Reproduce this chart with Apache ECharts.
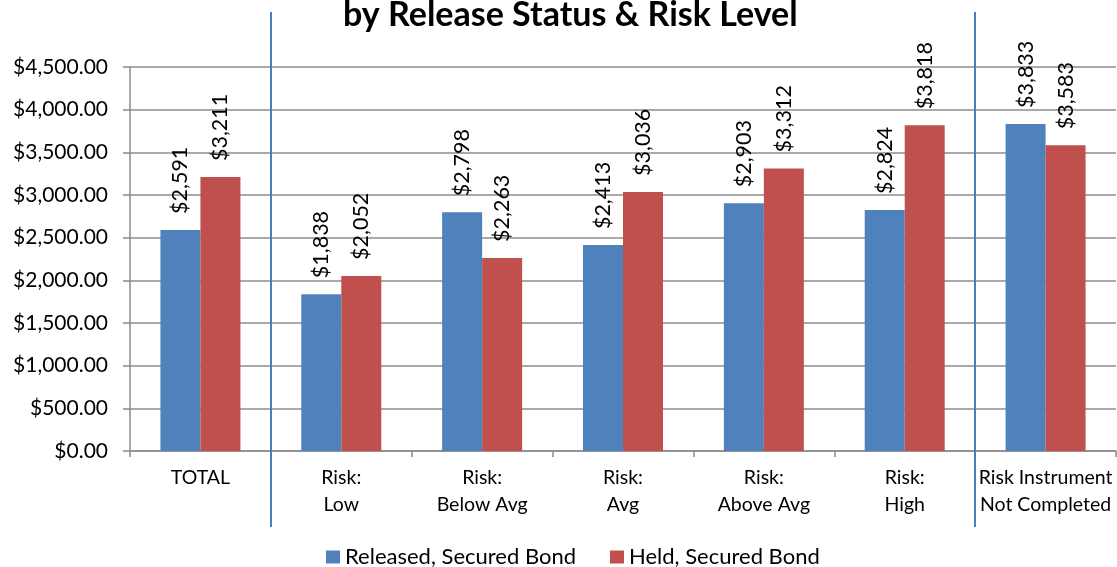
<!DOCTYPE html>
<html>
<head>
<meta charset="utf-8">
<script src="https://cdn.jsdelivr.net/npm/echarts@6/dist/echarts.min.js"></script>
<style>
  html, body { margin: 0; padding: 0; background: #ffffff; }
  #chart { width: 1117px; height: 567px; }
</style>
</head>
<body>
<div id="chart"></div>
<script>
// Average secured bond amount by release status and risk level
const categories = [
  'TOTAL',
  'Risk:\nLow',
  'Risk:\nBelow Avg',
  'Risk:\nAvg',
  'Risk:\nAbove Avg',
  'Risk:\nHigh',
  'Risk Instrument\nNot Completed'
];
const releasedValues = [2591, 1838, 2798, 2413, 2903, 2824, 3833];
const heldValues = [3211, 2052, 2263, 3036, 3312, 3818, 3583];
const seriesNames = ['Released, Secured Bond', 'Held, Secured Bond'];
const yMin = 0;
const yMax = 4500;
const yStep = 500;
// dividers are drawn after these category indexes
const dividerAfter = [0, 5];
const titleText = 'by Release Status & Risk Level';

const FONT = 'Lato, "Open Sans", sans-serif';
const BLUE = '#4F81BD';
const RED = '#C0504D';
const GRID_GRAY = '#8C8C8C';

function withCommas(n) {
  const s = String(Math.floor(Math.abs(n)));
  return s.replace(/\B(?=(\d{3})+(?!\d))/g, ',');
}
function money2(v) {
  const whole = withCommas(v);
  const cents = (Math.round(v * 100) % 100 + 100) % 100;
  return '$' + whole + '.' + String(cents).padStart(2, '0');
}
function money0(v) {
  return '$' + withCommas(Math.round(v));
}

const chart = echarts.init(document.getElementById('chart'), null, { renderer: 'canvas' });

const barLabel = {
  show: true,
  position: 'top',
  rotate: 90,
  align: 'left',
  verticalAlign: 'middle',
  distance: 16,
  fontFamily: FONT,
  fontSize: 21.5,
  color: '#000',
  formatter: p => money0(p.value)
};

chart.setOption({
  animation: false,
  backgroundColor: '#ffffff',
  title: {
    text: titleText,
    left: 338,
    top: -7,
    textStyle: { fontFamily: FONT, fontWeight: 'bold', fontSize: 34, color: '#000' }
  },
  legend: {
    data: seriesNames,
    left: 321,
    top: 541,
    icon: 'rect',
    itemWidth: 14,
    itemHeight: 13,
    itemGap: 34,
    textStyle: { fontFamily: FONT, fontSize: 22, color: '#000' }
  },
  grid: { left: 130, right: 1, top: 67, bottom: 116, containLabel: false },
  xAxis: {
    type: 'category',
    data: categories,
    axisLine: { lineStyle: { color: GRID_GRAY, width: 1.5 } },
    axisTick: { show: true, length: 6, lineStyle: { color: GRID_GRAY, width: 1.5 } },
    axisLabel: {
      interval: 0,
      margin: 13,
      fontFamily: FONT,
      fontSize: 19.5,
      lineHeight: 27,
      color: '#000'
    }
  },
  yAxis: {
    type: 'value',
    min: yMin,
    max: yMax,
    interval: yStep,
    axisLine: { show: true, lineStyle: { color: GRID_GRAY, width: 1.5 } },
    axisTick: { show: true, length: 7, lineStyle: { color: GRID_GRAY, width: 1.5 } },
    splitLine: { show: true, lineStyle: { color: GRID_GRAY, width: 1.5 } },
    axisLabel: {
      margin: 22,
      fontFamily: FONT,
      fontSize: 21,
      color: '#000',
      formatter: v => money2(v)
    }
  },
  series: [
    {
      name: seriesNames[0],
      type: 'bar',
      data: releasedValues,
      barWidth: 40,
      barGap: '0%',
      itemStyle: { color: BLUE },
      label: barLabel
    },
    {
      name: seriesNames[1],
      type: 'bar',
      data: heldValues,
      barWidth: 40,
      barGap: '0%',
      itemStyle: { color: RED },
      label: barLabel
    }
  ]
});

// group divider lines between TOTAL / risk levels / not completed
function drawDividers() {
  const c0 = chart.convertToPixel({ xAxisIndex: 0 }, 0);
  const c1 = chart.convertToPixel({ xAxisIndex: 0 }, 1);
  const band = c1 - c0;
  const elements = dividerAfter.map((idx, i) => {
    const x = Math.round(chart.convertToPixel({ xAxisIndex: 0 }, idx) + band / 2);
    return {
      type: 'line',
      id: 'divider' + i,
      shape: { x1: x, y1: 12, x2: x, y2: 527 },
      style: { stroke: '#4A7EBB', lineWidth: 2 },
      z: 10
    };
  });
  chart.setOption({ graphic: elements });
}
drawDividers();
</script>
</body>
</html>
